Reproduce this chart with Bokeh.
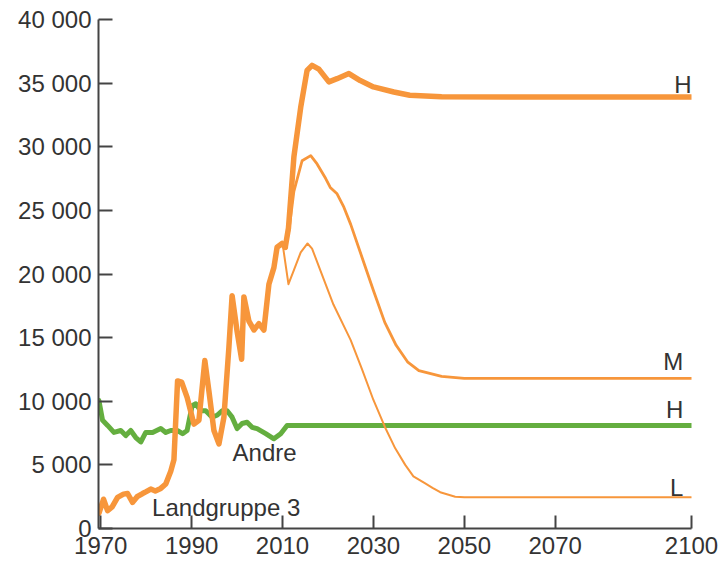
from bokeh.plotting import figure
from bokeh.models import Range1d, FixedTicker
from bokeh.core.properties import value
from bokeh.embed import file_html
from bokeh.resources import INLINE

# ---- data ----
hist_years = [1969.6, 1970.6, 1971.5, 1972.5, 1973.7, 1975.0, 1975.9, 1977.0, 1978.0, 1979.2,
              1980.0, 1981.0, 1982.0, 1983.2, 1984.3, 1985.4, 1986.1, 1986.9, 1987.8, 1989.0,
              1990.5, 1991.6, 1992.9, 1993.8, 1994.9, 1996.0, 1997.1, 1998.2, 1998.9, 2000.0,
              2001.0, 2001.5, 2002.6, 2003.7, 2004.8, 2005.9, 2007.0, 2008.1, 2008.8, 2009.9, 2010.6]
hist_vals = [1200, 2300, 1400, 1700, 2450, 2700, 2750, 2050, 2500, 2750,
             2900, 3100, 2950, 3150, 3500, 4500, 5400, 11600, 11500, 10300,
             8200, 8500, 13200, 10800, 7700, 6650, 8750, 14250, 18300, 15500,
             13300, 18200, 16300, 15600, 16100, 15600, 19200, 20500, 22100, 22400, 22100]

high_years = [2010.6, 2011.3, 2012.5, 2014.0, 2015.4, 2016.5, 2018.0, 2020.2, 2022.0, 2024.6,
              2027.1, 2030.0, 2034.5, 2038.0, 2045.0, 2100.0]
high_vals = [22100, 23600, 29200, 33100, 36000, 36400, 36100, 35100, 35350, 35750,
             35200, 34700, 34300, 34050, 33920, 33900]

mid_years = [2010.6, 2011.4, 2012.5, 2014.3, 2016.2, 2017.6, 2019.5, 2020.5, 2022.0, 2023.5,
             2025.0, 2027.5, 2030.0, 2032.5, 2035.0, 2037.5, 2040.0, 2045.0, 2050.0, 2100.0]
mid_vals = [22100, 23400, 26500, 28900, 29300, 28650, 27500, 26800, 26300, 25250,
            23900, 21300, 18700, 16200, 14400, 13100, 12400, 11950, 11800, 11800]

low_years = [2010.0, 2011.3, 2012.5, 2014.0, 2015.5, 2016.5, 2018.3, 2021.2, 2025.0, 2027.5,
             2030.0, 2032.5, 2034.8, 2037.0, 2038.8, 2041.4, 2043.0, 2044.7, 2048.0, 2050.0, 2100.0]
low_vals = [22400, 19200, 20300, 21700, 22400, 22000, 20300, 17600, 14800, 12500,
            10100, 8000, 6300, 5000, 4100, 3550, 3200, 2850, 2500, 2450, 2450]

other_years = [1969.6, 1970.4, 1971.5, 1972.9, 1974.4, 1975.5, 1976.6, 1977.7, 1978.8, 1979.9,
               1981.4, 1983.2, 1984.3, 1985.4, 1986.9, 1988.0, 1989.0, 1990.1, 1990.9, 1992.0,
               1993.1, 1994.5, 1995.6, 1996.7, 1997.8, 1998.9, 2000.0, 2001.1, 2002.2, 2003.3,
               2004.4, 2006.3, 2008.1, 2009.6, 2011.0, 2100.0]
other_vals = [10050, 8500, 8100, 7550, 7700, 7300, 7700, 7150, 6800, 7550,
              7550, 7850, 7550, 7700, 7700, 7450, 7700, 9650, 9800, 9250,
              9250, 8750, 8900, 9250, 9250, 8750, 7850, 8250, 8350, 7950,
              7850, 7450, 7050, 7450, 8100, 8100]

x_ticks = [1970, 1990, 2010, 2030, 2050, 2070, 2100]
y_ticks = [0, 5000, 10000, 15000, 20000, 25000, 30000, 35000, 40000]
y_tick_labels = ["0", "5 000", "10 000", "15 000", "20 000", "25 000", "30 000", "35 000", "40 000"]

# labels
right_texts = ["H", "M", "H", "L"]
right_x = [2100.0, 2098.2, 2098.2, 2098.2]
right_y = [34900, 13100, 9350, 3250]
left_texts = ["Andre", "Landgruppe 3"]
left_x = [1999.0, 1981.3]
left_y = [6000, 1670]

ORANGE = "#F7963B"
GREEN = "#64AE3F"
TXT = "#333333"
FONT = "Liberation Sans"
FS = "24px"

p = figure(width=719, height=565, output_backend="svg", toolbar_location=None,
           x_range=Range1d(1969.5, 2100), y_range=Range1d(0, 40000),
           min_border_left=98, min_border_top=19, min_border_right=28, min_border_bottom=37)
p.outline_line_color = None
p.xgrid.visible = False
p.ygrid.visible = False

p.line(other_years, other_vals, line_color=GREEN, line_width=5, line_join="round", line_cap="round")
p.line(low_years, low_vals, line_color=ORANGE, line_width=2, line_join="round", line_cap="round")
p.line(mid_years, mid_vals, line_color=ORANGE, line_width=2.8, line_join="round", line_cap="round")
p.line(hist_years, hist_vals, line_color=ORANGE, line_width=5.5, line_join="round", line_cap="round")
p.line(high_years, high_vals, line_color=ORANGE, line_width=5.5, line_join="round", line_cap="round")

p.text(x=right_x, y=right_y, text=right_texts, text_align="right", text_baseline="middle",
       text_font=value(FONT), text_font_size=FS, text_color=TXT)
p.text(x=left_x, y=left_y, text=left_texts, text_align="left", text_baseline="middle",
       text_font=value(FONT), text_font_size=FS, text_color=TXT)

for ax in (p.xaxis[0], p.yaxis[0]):
    ax.axis_line_color = "#444444"
    ax.axis_line_width = 2
    ax.major_tick_line_color = "#444444"
    ax.major_tick_line_width = 2
    ax.major_tick_out = 0
    ax.minor_tick_line_color = None
    ax.major_label_text_font = FONT
    ax.major_label_text_font_size = FS
    ax.major_label_text_color = TXT

p.xaxis.ticker = FixedTicker(ticks=x_ticks)
p.xaxis.major_tick_in = 13
p.xaxis.major_label_standoff = 8
p.xaxis.major_label_overrides = {t: str(t) for t in x_ticks}

p.yaxis.ticker = FixedTicker(ticks=y_ticks)
p.yaxis.major_tick_in = 14
p.yaxis.major_label_standoff = 7
p.yaxis.major_label_overrides = dict(zip(y_ticks, y_tick_labels))

open("out.html", "w").write(file_html(p, INLINE))
